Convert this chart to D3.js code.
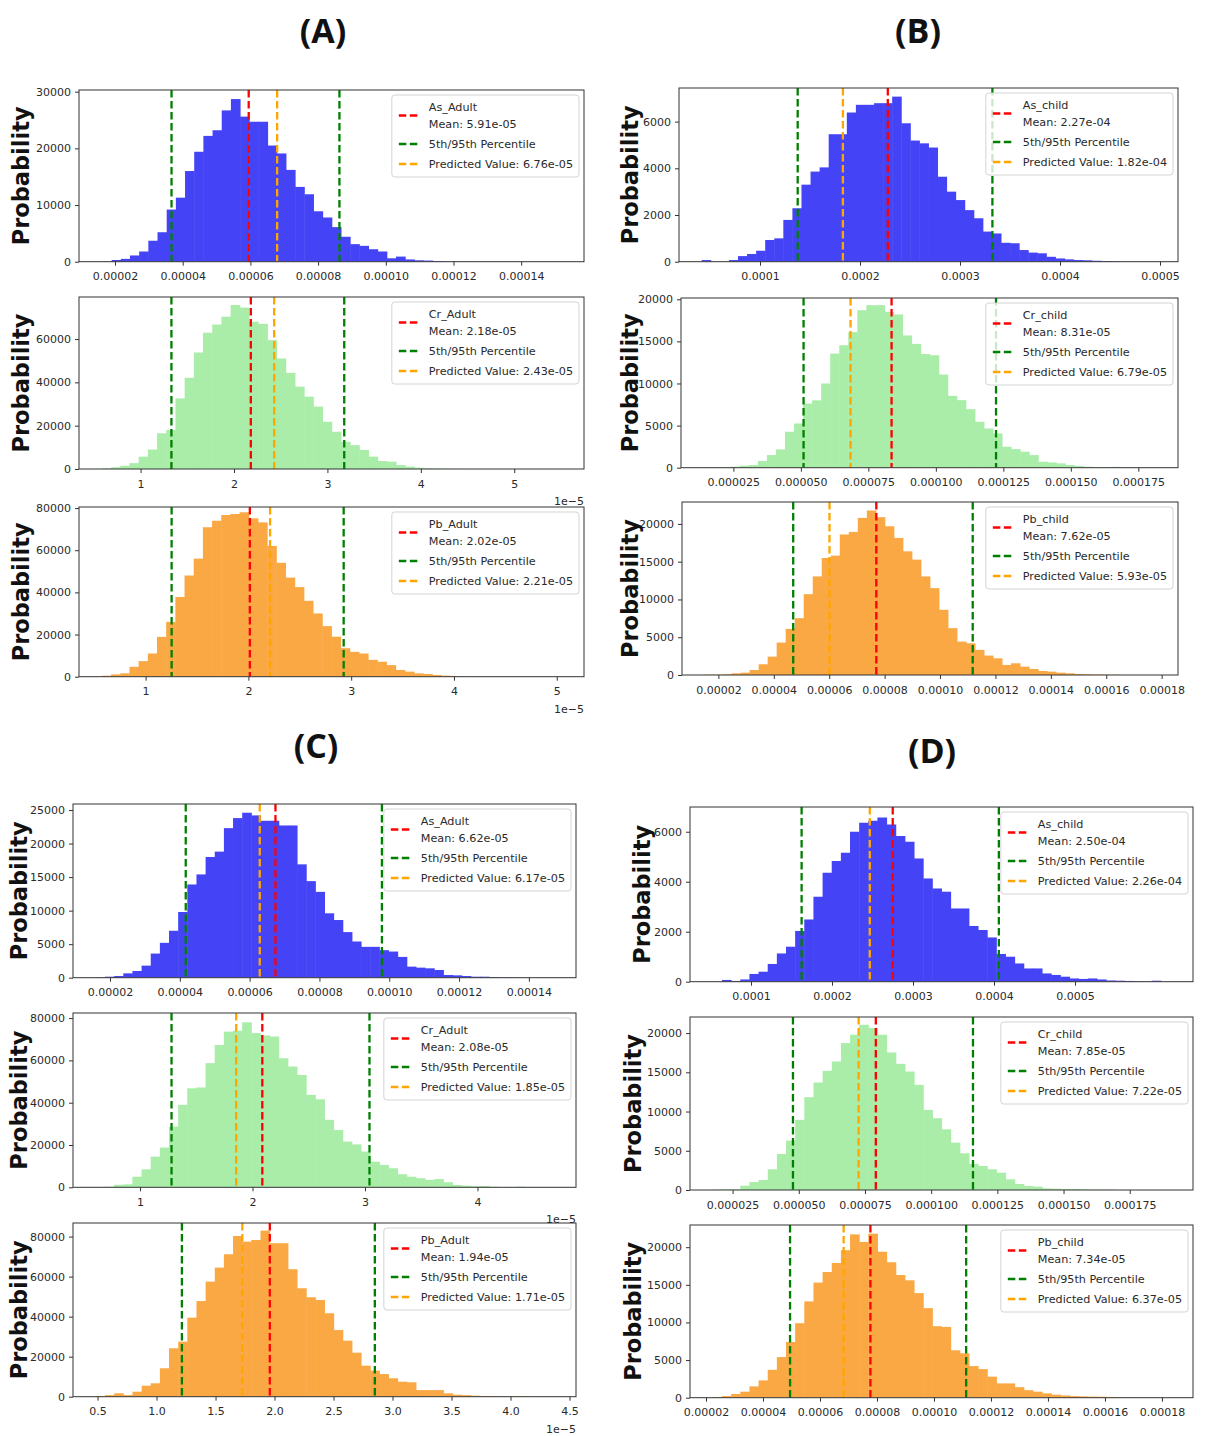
<!DOCTYPE html>
<html>
<head>
<meta charset="utf-8">
<script src="https://cdn.jsdelivr.net/npm/d3@7"></script>
<style>
body { margin: 0; background: #fff; }
svg text { font-family: "DejaVu Sans", sans-serif; fill: #2a2a2a; }
</style>
</head>
<body>
<script>
var svgWidth = 1210;
var svgHeight = 1436;

// ---- data ----
var groupTitles = ["(A)", "(B)", "(C)", "(D)"];

// panel order: A1 A2 A3 B1 B2 B3 C1 C2 C3 D1 D2 D3
var panelNames = ["As_Adult", "Cr_Adult", "Pb_Adult", "As_child", "Cr_child", "Pb_child",
                  "As_Adult", "Cr_Adult", "Pb_Adult", "As_child", "Cr_child", "Pb_child"];
var meanLabels = ["5.91e-05", "2.18e-05", "2.02e-05", "2.27e-04", "8.31e-05", "7.62e-05",
                  "6.62e-05", "2.08e-05", "1.94e-05", "2.50e-04", "7.85e-05", "7.34e-05"];
var predLabels = ["6.76e-05", "2.43e-05", "2.21e-05", "1.82e-04", "6.79e-05", "5.93e-05",
                  "6.17e-05", "1.85e-05", "1.71e-05", "2.26e-04", "7.22e-05", "6.37e-05"];

// where the dashed lines sit in the picture
var p5Lines   = [3.67e-5, 1.33e-5, 1.253e-5, 1.377e-4, 5.1e-5, 4.70e-5, 4.17e-5, 1.28e-5, 1.215e-5, 1.625e-4, 4.78e-5, 4.95e-5];
var meanLines = [5.95e-5, 2.18e-5, 2.014e-5, 2.278e-4, 8.36e-5, 7.70e-5, 6.74e-5, 2.087e-5, 1.96e-5, 2.75e-4, 7.91e-5, 7.77e-5];
var predLines = [6.79e-5, 2.43e-5, 2.211e-5, 1.829e-4, 6.84e-5, 6.01e-5, 6.29e-5, 1.855e-5, 1.727e-5, 2.467e-4, 7.26e-5, 6.83e-5];
var p95Lines  = [8.63e-5, 3.18e-5, 2.927e-5, 3.324e-4, 12.23e-5, 11.18e-5, 9.79e-5, 3.04e-5, 2.85e-5, 4.06e-4, 11.58e-5, 11.13e-5];

var binStarts = [1.63e-5, 0.586e-5, 0.575e-5, 4.17e-5, 1.397e-5, 1.50e-5, 1.595e-5, 0.607e-5, 0.486e-5, 5.29e-5, 1.755e-5, 2.24e-5];
var binWidths = [2.71e-6, 0.984e-6, 0.893e-6, 9.07e-6, 3.35e-6, 3.254e-6, 2.62e-6, 0.813e-6, 0.775e-6, 1.129e-5, 3.455e-6, 3.21e-6];

var xDomains = [[0.9365e-5, 15.855e-5], [0.3405e-5, 5.747e-5], [0.352e-5, 5.265e-5],
                [1.9e-5, 5.18e-4], [0.56e-5, 18.97e-5], [0.686e-5, 18.59e-5],
                [0.94e-5, 15.35e-5], [0.404e-5, 4.876e-5], [0.292e-5, 4.555e-5],
                [0.247e-4, 6.457e-4], [0.891e-5, 19.89e-5], [1.439e-5, 19.09e-5]];
var yMaxes = [30300, 79400, 80500, 7440, 20150, 22900, 25900, 82400, 86800, 6990, 22050, 22950];

var ticksSmall5 = [2e-5, 4e-5, 6e-5, 8e-5, 1e-4, 1.2e-4, 1.4e-4];
var labelsSmall5 = ["0.00002", "0.00004", "0.00006", "0.00008", "0.00010", "0.00012", "0.00014"];
var ticksE5 = [1e-5, 2e-5, 3e-5, 4e-5, 5e-5];
var labelsE5 = ["1", "2", "3", "4", "5"];
var ticksE4 = [1e-4, 2e-4, 3e-4, 4e-4, 5e-4];
var labelsE4 = ["0.0001", "0.0002", "0.0003", "0.0004", "0.0005"];
var ticks25 = [2.5e-5, 5e-5, 7.5e-5, 1e-4, 1.25e-4, 1.5e-4, 1.75e-4];
var labels25 = ["0.000025", "0.000050", "0.000075", "0.000100", "0.000125", "0.000150", "0.000175"];
var ticks18 = [2e-5, 4e-5, 6e-5, 8e-5, 1e-4, 1.2e-4, 1.4e-4, 1.6e-4, 1.8e-4];
var labels18 = ["0.00002", "0.00004", "0.00006", "0.00008", "0.00010", "0.00012", "0.00014", "0.00016", "0.00018"];
var ticksHalf = [0.5e-5, 1e-5, 1.5e-5, 2e-5, 2.5e-5, 3e-5, 3.5e-5, 4e-5, 4.5e-5];
var labelsHalf = ["0.5", "1.0", "1.5", "2.0", "2.5", "3.0", "3.5", "4.0", "4.5"];

var yTicks10k = [0, 10000, 20000, 30000];
var yTicks20k = [0, 20000, 40000, 60000];
var yTicks20k80 = [0, 20000, 40000, 60000, 80000];
var yTicks2k = [0, 2000, 4000, 6000];
var yTicks5k = [0, 5000, 10000, 15000, 20000];
var yTicks5k25 = [0, 5000, 10000, 15000, 20000, 25000];

// histogram counts, one value per bin
var countsAsAdultA = [50, 300, 500, 1100, 1800, 3700, 5200, 9200, 11300, 16000, 19400, 22200, 23200, 26700, 28700,
  25600, 24700, 24700, 20500, 19100, 16200, 13200, 11900, 8900, 7800, 6100, 4400, 3100, 2800, 2200, 1800, 600,
  900, 400, 250, 200, 120, 60, 30, 20];
var countsCrAdultA = [300, 800, 1500, 2700, 5700, 9000, 16500, 18000, 32600, 42100, 53800, 62900, 66700, 70300,
  75700, 74500, 68000, 67000, 59500, 51000, 44400, 38000, 33400, 28800, 21800, 17200, 12600, 11000, 8800, 5700,
  3700, 3400, 1800, 1100, 600, 300, 200, 100, 50, 20];
var countsPbAdultA = [500, 1100, 1600, 4700, 7400, 11000, 18900, 26000, 37800, 48000, 56000, 70900, 74000, 76700,
  77200, 78000, 75100, 73200, 62000, 54000, 47000, 42500, 36000, 30000, 24000, 19000, 13500, 11800, 11000, 8000,
  7100, 5500, 3200, 2400, 1600, 1300, 800, 500, 300, 150];
var countsAsChildB = [70, 0, 0, 70, 240, 330, 470, 930, 1000, 1790, 2290, 3300, 3860, 4040, 5460, 5460, 6390, 6720,
  6720, 6790, 6790, 7070, 5930, 5190, 5070, 4890, 3640, 3000, 2640, 2210, 1860, 1290, 1210, 810, 790, 500, 390, 360,
  210, 140, 100, 70, 60, 40, 30, 15];
var countsCrChildB = [40, 80, 80, 120, 240, 320, 790, 1500, 2170, 4270, 5250, 7620, 8000, 10000, 13550, 14540,
  16100, 18700, 19300, 19300, 18500, 18200, 15700, 14700, 13500, 13350, 11060, 8530, 8020, 6950, 5450, 4660, 4070,
  2490, 2210, 1900, 1500, 710, 630, 510, 320, 200, 120, 80, 80, 100, 60, 30];
var countsPbChildB = [40, 40, 90, 220, 310, 660, 1420, 2430, 4290, 6100, 7520, 10700, 13050, 15490, 15800, 18600,
  18940, 20800, 21770, 20890, 19690, 18140, 16370, 15270, 13050, 11500, 8630, 6200, 4420, 4200, 3320, 2570, 2210,
  1330, 1550, 1110, 800, 530, 440, 310, 220, 130, 90, 60, 40, 20];
var countsAsAdultC = [50, 150, 250, 650, 1000, 1800, 3600, 5200, 7000, 9800, 13900, 15400, 18000, 18800, 22300,
  23800, 24600, 24200, 23400, 23400, 22700, 22700, 16900, 14400, 12800, 9600, 8600, 6800, 5400, 4600, 4600, 4100,
  3900, 3100, 1650, 1500, 1400, 1150, 400, 350, 250, 150, 150, 100, 60, 40, 20];
var countsCrAdultC = [150, 300, 1200, 1400, 5000, 8500, 14500, 18800, 28700, 39000, 46800, 47200, 58700, 67300,
  73600, 74000, 78000, 72900, 71800, 71300, 61000, 57100, 53100, 43700, 41600, 31900, 27100, 21600, 20300, 16900,
  12100, 10600, 9000, 6200, 5000, 4300, 3500, 3900, 2400, 1100, 800, 500, 600, 300, 150, 150, 300];
var countsPbAdultC = [300, 800, 1700, 800, 2500, 5500, 6700, 14200, 24200, 27500, 39500, 47800, 57500, 64500,
  71200, 80300, 77500, 78300, 83000, 76700, 76700, 63700, 54200, 49700, 48300, 41700, 33300, 28000, 22000, 15500,
  13000, 11300, 9200, 7500, 7200, 3300, 3300, 3300, 1700, 1000, 800, 500, 300, 300, 150, 150, 300, 100];
var countsAsChildD = [0, 70, 30, 90, 310, 400, 710, 1130, 1400, 2030, 2490, 3400, 4360, 4830, 5160, 6000, 6360,
  6440, 6570, 6290, 5830, 5600, 4930, 4130, 3730, 3600, 2930, 2930, 2230, 2070, 1770, 1110, 1000, 730, 530, 530,
  330, 270, 200, 130, 110, 130, 90, 50, 40, 30, 20, 10, 40];
var countsCrChildD = [40, 80, 80, 550, 1020, 1280, 2640, 4600, 6300, 8940, 11830, 13700, 15190, 16380, 18720,
  19790, 21060, 20640, 19790, 17530, 16080, 15100, 13400, 10210, 9150, 7740, 6040, 4680, 3320, 3060, 2640, 2210,
  1360, 770, 510, 430, 210, 170, 130, 130, 80, 40, 40, 40];
var countsPbChildD = [100, 220, 500, 800, 1500, 2300, 3700, 5400, 7400, 9900, 12800, 15300, 16700, 17900, 19600,
  21700, 20700, 21800, 19400, 18000, 16300, 15600, 13900, 11900, 9500, 9400, 6300, 5900, 4200, 3800, 2800, 1900,
  1900, 1400, 1000, 800, 580, 400, 300, 220, 180, 150, 130, 100, 60, 40];

// ---- per panel wiring ----
var panelCounts = [countsAsAdultA, countsCrAdultA, countsPbAdultA, countsAsChildB, countsCrChildB, countsPbChildB,
                   countsAsAdultC, countsCrAdultC, countsPbAdultC, countsAsChildD, countsCrChildD, countsPbChildD];
var panelXTicks = [[ticksSmall5, labelsSmall5], [ticksE5, labelsE5], [ticksE5, labelsE5],
                   [ticksE4, labelsE4], [ticks25, labels25], [ticks18, labels18],
                   [ticksSmall5, labelsSmall5], [ticksE5.slice(0, 4), labelsE5.slice(0, 4)], [ticksHalf, labelsHalf],
                   [ticksE4, labelsE4], [ticks25, labels25], [ticks18, labels18]];
var panelYTicks = [yTicks10k, yTicks20k, yTicks20k80, yTicks2k, yTicks5k, yTicks5k,
                   yTicks5k25, yTicks20k80, yTicks20k80, yTicks2k, yTicks5k, yTicks5k];
var hasOffset = [false, true, true, false, false, false, false, true, true, false, false, false];

// ---- layout ----
var frames = [
  [79, 584, 90, 261.7], [79, 584, 297, 469], [79, 584, 507, 676.7],
  [679, 1178, 88, 261.7], [681, 1178, 298, 467.7], [682, 1178, 502, 675],
  [73, 576, 804, 977.7], [73, 576, 1013, 1187.3], [73, 576, 1223, 1396.7],
  [690, 1193, 807, 981.7], [690, 1193, 1017, 1190], [690, 1193, 1225, 1397.7]
];
var yLabelX = [21, 21, 21, 630, 630, 630, 19, 19, 19, 642, 633, 633];
var titlePos = [[323, 43], [918, 43], [316, 758], [932, 763]];
var fills = ["#4444f6", "#a9eda9", "#faa844"];

var svg = d3.select("body")
            .append("svg")
            .attr("width", svgWidth)
            .attr("height", svgHeight);

svg.append("rect").attr("width", svgWidth).attr("height", svgHeight).attr("fill", "#fff");

groupTitles.forEach(function(t, i) {
    svg.append("text")
        .attr("x", titlePos[i][0])
        .attr("y", titlePos[i][1])
        .attr("text-anchor", "middle")
        .style("font-family", "'Open Sans', sans-serif")
        .style("font-weight", "700")
        .style("font-size", "34px")
        .style("fill", "#111")
        .text(t);
});

function drawPanel(p) {
    var f = frames[p];
    var w = f[1] - f[0];
    var h = f[3] - f[2];
    var g = svg.append("g").attr("transform", `translate(${f[0]}, ${f[2]})`);

    var x = d3.scaleLinear().domain(xDomains[p]).range([0, w]);
    var y = d3.scaleLinear().domain([0, yMaxes[p]]).range([h, 0]);
    var fill = fills[p % 3];
    var start = binStarts[p], bw = binWidths[p];

    g.append("defs").append("clipPath").attr("id", "clip" + p)
        .append("rect").attr("width", w).attr("height", h);

    var plot = g.append("g").attr("clip-path", `url(#clip${p})`);

    plot.selectAll("rect")
        .data(panelCounts[p])
        .join("rect")
        .attr("x", (d, i) => x(start + i * bw))
        .attr("width", (d, i) => x(start + (i + 1) * bw) - x(start + i * bw) + 0.5)
        .attr("y", d => y(d))
        .attr("height", d => h - y(d))
        .attr("fill", fill);

    var vlines = [
        { v: meanLines[p], c: "#ff0000" },
        { v: p5Lines[p], c: "#008000" },
        { v: p95Lines[p], c: "#008000" },
        { v: predLines[p], c: "#ffa500" }
    ];
    plot.selectAll("line.v")
        .data(vlines)
        .join("line")
        .attr("class", "v")
        .attr("x1", d => x(d.v))
        .attr("x2", d => x(d.v))
        .attr("y1", 0)
        .attr("y2", h)
        .attr("stroke", d => d.c)
        .attr("stroke-width", 2.3)
        .attr("stroke-dasharray", "7.5,3.5");

    var xt = panelXTicks[p];
    var bottomAxis = d3.axisBottom(x)
        .tickValues(xt[0])
        .tickFormat((d, i) => xt[1][i])
        .tickSize(4)
        .tickPadding(7);
    var leftAxis = d3.axisLeft(y)
        .tickValues(panelYTicks[p])
        .tickFormat(d3.format("d"))
        .tickSize(4)
        .tickPadding(4);

    var gx = g.append("g").attr("transform", `translate(0, ${h})`).call(bottomAxis);
    var gy = g.append("g").call(leftAxis);
    [gx, gy].forEach(function(a) {
        a.select(".domain").remove();
        a.selectAll("line").attr("stroke", "#333");
        a.selectAll("text").style("font-size", "11px").style("fill", "#2a2a2a");
    });

    g.append("rect")
        .attr("width", w)
        .attr("height", h)
        .attr("fill", "none")
        .attr("stroke", "#333")
        .attr("stroke-width", 1);

    if (hasOffset[p]) {
        g.append("text")
            .attr("x", w)
            .attr("y", h + 36)
            .attr("text-anchor", "end")
            .style("font-size", "11px")
            .text("1e\u22125");
    }

    // y label
    svg.append("text")
        .attr("transform", `translate(${yLabelX[p]}, ${f[2] + h / 2}) rotate(-90)`)
        .attr("text-anchor", "middle")
        .attr("dominant-baseline", "central")
        .style("font-weight", "700")
        .style("font-size", "22.5px")
        .style("fill", "#111")
        .text("Probability");

    // legend
    var entries = [
        { lines: [panelNames[p], "Mean: " + meanLabels[p]], c: "#ff0000" },
        { lines: ["5th/95th Percentile"], c: "#008000" },
        { lines: ["Predicted Value: " + predLabels[p]], c: "#ffa500" }
    ];
    var lg = g.append("g");
    var box = lg.append("rect");
    var textY = [12, 29, 49, 69];
    var handleY = [20.5, 49, 69];
    var k = 0, maxW = 0;
    entries.forEach(function(e, i) {
        lg.append("line")
            .attr("x1", 7).attr("x2", 28)
            .attr("y1", handleY[i]).attr("y2", handleY[i])
            .attr("stroke", e.c)
            .attr("stroke-width", 2.3)
            .attr("stroke-dasharray", "7.5,3.5");
        e.lines.forEach(function(s) {
            var t = lg.append("text")
                .attr("x", 37)
                .attr("y", textY[k++])
                .attr("dominant-baseline", "central")
                .style("font-size", "11.2px")
                .text(s);
            maxW = Math.max(maxW, t.node().getComputedTextLength());
        });
    });
    var bwid = 37 + maxW + 6;
    box.attr("width", bwid)
        .attr("height", 82)
        .attr("rx", 3)
        .attr("fill", "#fff")
        .attr("fill-opacity", 0.8)
        .attr("stroke", "#d4d4d4");
    lg.attr("transform", `translate(${w - 5 - bwid}, 5)`);
}

for (var p = 0; p < 12; p++) {
    drawPanel(p);
}
</script>
</body>
</html>
